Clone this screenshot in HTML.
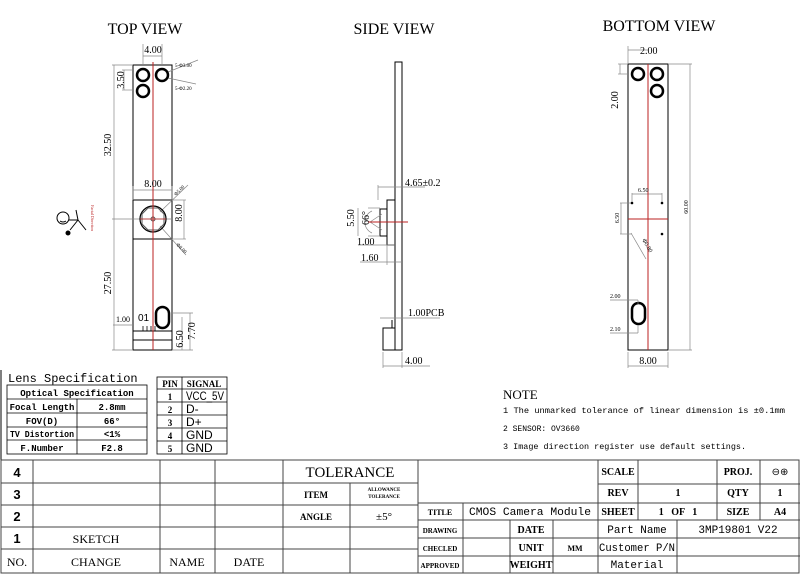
<!DOCTYPE html>
<html><head><meta charset="utf-8"><style>
html,body{margin:0;padding:0;background:#fff;}
svg{display:block;}
text{font-family:"Liberation Serif",serif;fill:#000;}
text.s,.s text{font-family:"Liberation Sans",sans-serif;}
text.m,.m text{font-family:"Liberation Mono",monospace;}
</style></head><body>
<svg width="800" height="576" viewBox="0 0 800 576" xmlns="http://www.w3.org/2000/svg">
<rect width="800" height="576" fill="#fff"/>
<text x="145" y="34" font-size="16" text-anchor="middle">TOP VIEW</text>
<text x="394" y="34" font-size="16" text-anchor="middle">SIDE VIEW</text>
<text x="659" y="31" font-size="16" text-anchor="middle">BOTTOM VIEW</text>

<!-- TOP VIEW -->
<g stroke="#000" fill="none" stroke-width="1">
<rect x="133" y="65" width="39" height="285"/>
<rect x="133" y="200" width="39" height="39"/>
<line x1="133" y1="340" x2="172" y2="340"/>
<line x1="133" y1="331" x2="172" y2="331"/>
<g stroke="#888" stroke-width="0.7">
<line x1="112" y1="65" x2="133" y2="65"/><line x1="112" y1="350" x2="133" y2="350"/>
<line x1="114" y1="65" x2="114" y2="350"/>
<line x1="112" y1="219" x2="172" y2="219"/>
<line x1="122" y1="70" x2="133" y2="70"/><line x1="122" y1="90" x2="133" y2="90"/><line x1="124" y1="70" x2="124" y2="90"/>
<line x1="143" y1="44" x2="143" y2="65"/><line x1="162" y1="44" x2="162" y2="65"/><line x1="143" y1="56" x2="162" y2="56"/>
<line x1="133" y1="190" x2="172" y2="190"/><line x1="133" y1="186" x2="133" y2="200"/><line x1="172" y1="186" x2="172" y2="200"/>
<line x1="172" y1="200" x2="186" y2="200"/><line x1="172" y1="239" x2="186" y2="239"/><line x1="184" y1="200" x2="184" y2="239"/>
<line x1="160" y1="212" x2="188" y2="185"/><line x1="160" y1="226" x2="186" y2="255"/>
<line x1="168" y1="72" x2="198" y2="60"/><line x1="168" y1="78" x2="196" y2="84"/>
<line x1="172" y1="313" x2="193" y2="313"/><line x1="172" y1="350" x2="193" y2="350"/>
<line x1="182" y1="317" x2="182" y2="350"/><line x1="190" y1="313" x2="190" y2="350"/>
<line x1="113" y1="325" x2="133" y2="325"/>
</g>
<circle cx="143" cy="75" r="6" stroke-width="2.5"/><circle cx="162" cy="75" r="6" stroke-width="2.5"/><circle cx="143" cy="91" r="6" stroke-width="2.5"/>
<rect x="156" y="307" width="13" height="21" rx="6.5" stroke-width="2.5"/>
<circle cx="153" cy="219" r="13" stroke-width="1.2"/>
<polygon points="148,208 158,208 164,214 164,224 158,230 148,230 142,224 142,214" stroke="#555"/>
<circle cx="153" cy="219" r="2" stroke="#555"/>
<g stroke="#000" stroke-width="0.8"><line x1="143" y1="326" x2="143" y2="331"/><line x1="147" y1="326" x2="147" y2="331"/><line x1="151" y1="326" x2="151" y2="331"/><line x1="155" y1="326" x2="155" y2="331"/></g>
</g>
<line x1="153" y1="62" x2="153" y2="350" stroke="#b22" stroke-width="1"/>
<line x1="140" y1="219" x2="166" y2="219" stroke="#b22" stroke-width="0.8"/>
<g font-size="10">
<text x="153" y="53" text-anchor="middle">4.00</text>
<text transform="translate(124,80) rotate(-90)" text-anchor="middle">3.50</text>
<text transform="translate(111,145) rotate(-90)" text-anchor="middle">32.50</text>
<text transform="translate(111,283) rotate(-90)" text-anchor="middle">27.50</text>
<text x="153" y="187" text-anchor="middle">8.00</text>
<text transform="translate(182,213) rotate(-90)" text-anchor="middle">8.00</text>
<text transform="translate(183,339) rotate(-90)" text-anchor="middle">6.50</text>
<text transform="translate(195,331) rotate(-90)" text-anchor="middle">7.70</text>
<text x="116" y="322" font-size="8">1.00</text>
<text x="138" y="321" font-size="10" class="s">01</text>
</g>
<g font-size="5"><text x="175" y="67">5-Φ3.00</text><text x="175" y="90">5-Φ2.20</text>
<text transform="translate(176,196) rotate(-45)">Φ5.00</text><text transform="translate(176,245) rotate(45)">Φ8.00</text></g>
<g stroke="#000" fill="none" stroke-width="1">
<circle cx="63" cy="218" r="6"/><path d="M60 221 q3 2 6 0"/>
<line x1="69" y1="220" x2="78" y2="220"/><line x1="78" y1="220" x2="76" y2="210"/><line x1="78" y1="220" x2="70" y2="230"/><line x1="78" y1="220" x2="86" y2="230"/>
<circle cx="68" cy="233" r="2" fill="#000"/>
</g>
<text transform="translate(91,218) rotate(90)" font-size="4" style="fill:#b22" text-anchor="middle">Facial Direction</text>

<!-- SIDE VIEW -->
<g stroke="#000" fill="none" stroke-width="1">
<rect x="395" y="62" width="7" height="288"/>
<rect x="383" y="328" width="12" height="22"/>
<line x1="392" y1="328" x2="392" y2="320"/>
<rect x="387" y="200" width="8" height="45"/>
<rect x="380" y="209" width="7" height="27"/>
<g stroke="#888" stroke-width="0.7">
<line x1="378" y1="185" x2="378" y2="200"/><line x1="378" y1="187" x2="425" y2="187"/>
<line x1="368" y1="208" x2="380" y2="208"/><line x1="368" y1="236" x2="380" y2="236"/>
<line x1="358" y1="208" x2="358" y2="236"/>
<line x1="358" y1="245" x2="395" y2="245"/><line x1="360" y1="262" x2="402" y2="262"/>
<line x1="387" y1="245" x2="387" y2="265"/>
<line x1="380" y1="318" x2="440" y2="318"/>
<line x1="383" y1="352" x2="383" y2="368"/><line x1="402" y1="352" x2="402" y2="368"/><line x1="383" y1="366" x2="430" y2="366"/>
<path d="M370 222 L382 214 M370 222 L382 230 M372 211 A12 12 0 0 0 372 233"/>
</g>
</g>
<line x1="368" y1="222" x2="408" y2="222" stroke="#b22" stroke-width="1"/>
<g font-size="10">
<text x="405" y="186">4.65±0.2</text>
<text transform="translate(354,218) rotate(-90)" text-anchor="middle">5.50</text>
<text transform="translate(369,218) rotate(-90)" text-anchor="middle">66°</text>
<text x="357" y="245">1.00</text>
<text x="361" y="261">1.60</text>
<text x="408" y="316">1.00PCB</text>
<text x="405" y="364">4.00</text>
</g>

<!-- BOTTOM VIEW -->
<g stroke="#000" fill="none" stroke-width="1">
<rect x="628" y="64" width="40" height="286"/>
<circle cx="638" cy="74" r="6" stroke-width="2.5"/><circle cx="657" cy="74" r="6" stroke-width="2.5"/><circle cx="657" cy="91" r="6" stroke-width="2.5"/>
<rect x="632" y="303" width="13" height="21" rx="6.5" stroke-width="2.5"/>
<g stroke="#888" stroke-width="0.7">
<line x1="628" y1="46" x2="628" y2="64"/><line x1="628" y1="50" x2="648" y2="50"/>
<line x1="618" y1="64" x2="628" y2="64"/><line x1="618" y1="74" x2="628" y2="74"/><line x1="620" y1="64" x2="620" y2="74"/>
<line x1="668" y1="64" x2="692" y2="64"/><line x1="668" y1="350" x2="692" y2="350"/><line x1="690" y1="64" x2="690" y2="350"/>
<line x1="632" y1="193" x2="632" y2="203"/><line x1="662" y1="193" x2="662" y2="203"/><line x1="632" y1="194" x2="662" y2="194"/>
<line x1="620" y1="203" x2="632" y2="203"/><line x1="620" y1="234" x2="632" y2="234"/><line x1="621" y1="203" x2="621" y2="234"/>
<line x1="631" y1="233" x2="646" y2="259"/>
<line x1="610" y1="300" x2="638" y2="300"/><line x1="638" y1="300" x2="638" y2="304"/>
<line x1="610" y1="333" x2="638" y2="333"/><line x1="638" y1="325" x2="638" y2="333"/>
<line x1="628" y1="352" x2="628" y2="368"/><line x1="668" y1="352" x2="668" y2="368"/><line x1="628" y1="366" x2="668" y2="366"/>
</g>
</g>
<g fill="#000"><circle cx="632" cy="203" r="1.3"/><circle cx="662" cy="203" r="1.3"/><circle cx="662" cy="234" r="1.3"/></g>
<line x1="648" y1="64" x2="648" y2="350" stroke="#b22"/>
<line x1="628" y1="219" x2="668" y2="219" stroke="#b22"/>
<g font-size="10">
<text x="640" y="54">2.00</text>
<text transform="translate(618,100) rotate(-90)" text-anchor="middle">2.00</text>
<text x="648" y="364" text-anchor="middle">8.00</text>
</g>
<g font-size="6">
<text x="638" y="192">6.50</text>
<text transform="translate(619,218) rotate(-90)" text-anchor="middle">6.50</text>
<text transform="translate(688,207) rotate(-90)" text-anchor="middle">60.00</text>
<text transform="translate(642,240) rotate(60)">Φ0.80</text>
<text x="610" y="298">2.00</text>
<text x="610" y="331">2.10</text>
</g>

<!-- Lens spec -->
<line x1="1" y1="370" x2="1" y2="460" stroke="#000"/>
<text x="8" y="382" font-size="12" class="m">Lens Specification</text>
<g stroke="#000" fill="none" stroke-width="0.8">
<rect x="7" y="385" width="140" height="69"/>
<line x1="7" y1="399" x2="147" y2="399"/><line x1="7" y1="413" x2="147" y2="413"/><line x1="7" y1="427" x2="147" y2="427"/><line x1="7" y1="440" x2="147" y2="440"/>
<line x1="77" y1="399" x2="77" y2="454"/>
<rect x="157" y="377" width="70" height="77"/>
<line x1="157" y1="389" x2="227" y2="389"/><line x1="157" y1="402" x2="227" y2="402"/><line x1="157" y1="415" x2="227" y2="415"/><line x1="157" y1="428" x2="227" y2="428"/><line x1="157" y1="441" x2="227" y2="441"/>
<line x1="182" y1="377" x2="182" y2="454"/>
</g>
<g font-size="9" class="m" font-weight="bold" text-anchor="middle">
<text x="77" y="396">Optical Specification</text>
<text x="42" y="410">Focal Length</text><text x="112" y="410">2.8mm</text>
<text x="42" y="424">FOV(D)</text><text x="112" y="424">66°</text>
<text x="42" y="437" textLength="64" lengthAdjust="spacingAndGlyphs">TV Distortion</text><text x="112" y="437">&lt;1%</text>
<text x="42" y="451">F.Number</text><text x="112" y="451">F2.8</text>
</g>
<g font-size="9" text-anchor="middle" font-weight="bold">
<text x="170" y="387">PIN</text><text x="204" y="387">SIGNAL</text>
<text x="170" y="400">1</text><text x="170" y="413">2</text><text x="170" y="426">3</text><text x="170" y="439">4</text><text x="170" y="452">5</text>
</g>
<g font-size="12" class="s"><text x="186" y="400" textLength="38" lengthAdjust="spacingAndGlyphs">VCC_5V</text><text x="186" y="413">D-</text><text x="186" y="426">D+</text><text x="186" y="439">GND</text><text x="186" y="452">GND</text></g>

<!-- NOTE -->
<text x="503" y="399" font-size="13">NOTE</text>
<g font-size="8" class="m"><text x="503" y="413" textLength="282" lengthAdjust="spacingAndGlyphs">1  The unmarked tolerance of linear dimension is ±0.1mm</text>
<text x="503" y="431">2  SENSOR: OV3660</text>
<text x="503" y="449" textLength="243" lengthAdjust="spacingAndGlyphs">3  Image direction register use default settings.</text></g>

<!-- Title block -->
<g stroke="#444" fill="none" stroke-width="1">
<rect x="1" y="460" width="798" height="113"/>
<line x1="1" y1="483" x2="418" y2="483"/><line x1="1" y1="505" x2="418" y2="505"/><line x1="1" y1="527" x2="418" y2="527"/><line x1="1" y1="549" x2="418" y2="549"/>
<line x1="33" y1="460" x2="33" y2="573"/><line x1="160" y1="460" x2="160" y2="573"/><line x1="215" y1="460" x2="215" y2="573"/><line x1="283" y1="460" x2="283" y2="573"/>
<line x1="350" y1="483" x2="350" y2="573"/><line x1="418" y1="460" x2="418" y2="573"/>
<line x1="598" y1="484" x2="800" y2="484"/><line x1="418" y1="503" x2="800" y2="503"/><line x1="418" y1="520" x2="800" y2="520"/><line x1="418" y1="538" x2="800" y2="538"/><line x1="418" y1="556" x2="800" y2="556"/>
<line x1="598" y1="460" x2="598" y2="573"/><line x1="638" y1="460" x2="638" y2="520"/><line x1="717" y1="460" x2="717" y2="520"/><line x1="760" y1="460" x2="760" y2="520"/>
<line x1="463" y1="503" x2="463" y2="573"/><line x1="510" y1="520" x2="510" y2="573"/><line x1="553" y1="520" x2="553" y2="573"/><line x1="677" y1="520" x2="677" y2="573"/>
</g>
<g font-size="13" text-anchor="middle" font-weight="bold" class="s">
<text x="17" y="477">4</text><text x="17" y="499">3</text><text x="17" y="521">2</text><text x="17" y="543">1</text>
</g>
<g font-size="12" text-anchor="middle">
<text x="17" y="566">NO.</text><text x="96" y="543">SKETCH</text><text x="96" y="566">CHANGE</text><text x="187" y="566">NAME</text><text x="249" y="566">DATE</text>
<text x="350" y="477" font-size="15">TOLERANCE</text>
<text x="316" y="498" font-size="9" font-weight="bold">ITEM</text>
<text x="384" y="491" font-size="5" font-weight="bold">ALLOWANCE</text><text x="384" y="498" font-size="5" font-weight="bold">TOLERANCE</text>
<text x="316" y="520" font-size="9" font-weight="bold">ANGLE</text><text x="384" y="520" font-size="11">±5°</text>
</g>
<g font-size="10" text-anchor="middle" font-weight="bold">
<text x="618" y="475">SCALE</text><text x="738" y="475">PROJ.</text><text x="780" y="475" font-weight="normal">⊖⊕</text>
<text x="618" y="496">REV</text><text x="678" y="496">1</text><text x="738" y="496">QTY</text><text x="780" y="496">1</text>
<text x="440" y="515" font-size="8">TITLE</text><text x="618" y="515">SHEET</text><text x="678" y="515" xml:space="preserve">1   OF   1</text><text x="738" y="515">SIZE</text><text x="780" y="515">A4</text>
<text x="440" y="533" font-size="7">DRAWING</text><text x="440" y="551" font-size="7">CHECLED</text><text x="440" y="568" font-size="7">APPROVED</text>
<text x="531" y="533">DATE</text><text x="531" y="551">UNIT</text><text x="575" y="551" font-size="8">MM</text><text x="531" y="568">WEIGHT</text>
</g>
<g font-size="11" class="m" text-anchor="middle">
<text x="530" y="515" textLength="122" lengthAdjust="spacingAndGlyphs">CMOS  Camera Module</text>
<text x="637" y="533">Part Name</text><text x="738" y="533">3MP19801 V22</text>
<text x="637" y="551" textLength="76" lengthAdjust="spacingAndGlyphs">Customer P/N</text><text x="637" y="568">Material</text>
</g>
</svg>
</body></html>
